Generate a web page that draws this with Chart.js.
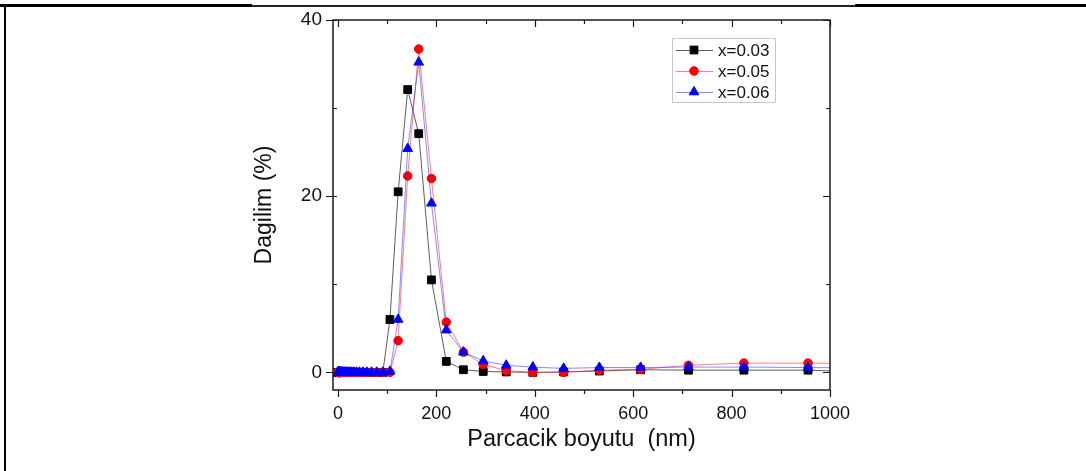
<!DOCTYPE html>
<html>
<head>
<meta charset="utf-8">
<script src="https://cdn.jsdelivr.net/npm/chart.js@4/dist/chart.umd.min.js"></script>
<style>
  html, body { margin: 0; padding: 0; background: #fff; }
  #wrap { position: relative; width: 1086px; height: 471px; overflow: hidden; }
  #c { position: absolute; left: 0; top: 0; }
  .bl { position: absolute; background: #000; }
</style>
</head>
<body>
<div id="wrap">
  <canvas id="c" width="1086" height="471"></canvas>
  <div class="bl" style="left:4px;top:4px;width:2px;height:467px;"></div>
  <div class="bl" style="left:0;top:4px;width:252px;height:3px;"></div>
  <div class="bl" style="left:252px;top:5px;width:603px;height:1.5px;background:#222;"></div>
  <div class="bl" style="left:855px;top:4px;width:231px;height:3px;"></div>
</div>
<script>
// Particle size bins (nm)
const sizes = [0.4, 0.4632, 0.5365, 0.6213, 0.7195, 0.8332, 0.9649, 1.117, 1.294, 1.499,
  1.736, 2.01, 2.328, 2.696, 3.122, 3.615, 4.187, 4.849, 5.615, 6.503,
  7.531, 8.721, 10.1, 11.7, 13.54, 15.69, 18.17, 21.04, 24.36, 28.21,
  32.67, 37.84, 43.82, 50.75, 58.77, 68.06, 78.82, 91.28, 105.7, 122.4,
  141.8, 164.2, 190.1, 220.2, 255.0, 295.3, 342.0, 396.1, 458.7, 531.2,
  615.1, 712.4, 825.0, 955.4, 1106];

// Distribution (%) for each composition
const x003 = [0,0,0,0,0,0,0,0,0,0, 0,0,0,0,0,0,0,0,0,0, 0,0,0,0,0,0,0,0,0,0,
  0,0,0,0,0,0,0,0, 6.0, 20.5, 32.1, 27.1, 10.5, 1.25, 0.3, 0.1, 0.05, 0.0, 0.05, 0.15,
  0.3, 0.25, 0.25, 0.25, 0.0];
const x005 = [0,0,0,0,0,0,0,0,0,0, 0,0,0,0,0,0,0,0,0,0, 0,0,0,0,0,0,0,0,0,0,
  0,0,0,0,0,0,0,0, 0.0, 3.6, 22.3, 36.7, 22.0, 5.7, 2.3, 0.9, 0.2, 0.0, 0.0, 0.25,
  0.35, 0.8, 1.05, 1.05, 1.0];
const x006 = [0,0,0,0,0,0,0,0,0,0, 0,0,0,0,0,0,0,0,0,0, 0,0,0,0,0,0,0,0,0,0,
  0,0,0,0,0,0,0,0, 0.1, 6.0, 25.4, 35.2, 19.2, 4.8, 2.3, 1.3, 0.8, 0.6, 0.45, 0.55,
  0.55, 0.6, 0.6, 0.55, 0.5];

const seriesNames = ['x=0.03', 'x=0.05', 'x=0.06'];
const xTickValues = [0, 200, 400, 600, 800, 1000];
const xMinorValues = [100, 300, 500, 700, 900];
const yTickValues = [0, 20, 40];
const yMinorValues = [10, 30];

const FONT = "'Liberation Sans', Arial, sans-serif";

function pts(vals) { return sizes.map((s, i) => ({ x: s, y: vals[i] })); }

const styles = [
  { line: 'rgba(40,40,40,0.75)', pt: '#000000', shape: 'rect', r: 5.5 },
  { line: 'rgba(255,40,40,0.6)', pt: '#ff0000', shape: 'circle', r: 4.3 },
  { line: 'rgba(40,40,255,0.55)', pt: '#0000ff', shape: 'triangle', r: 5.6 }
];
const allVals = [x003, x005, x006];

const datasets = allVals.map((v, i) => ({
  label: seriesNames[i],
  data: pts(v),
  borderColor: styles[i].line,
  borderWidth: 1,
  pointStyle: styles[i].shape,
  pointRadius: styles[i].r,
  pointBackgroundColor: styles[i].pt,
  pointBorderColor: styles[i].pt,
  pointBorderWidth: 1,
  tension: 0,
  order: 3 - i
}));

function drawMarker(ctx, shape, x, y, r, color) {
  ctx.save();
  ctx.fillStyle = color; ctx.strokeStyle = color; ctx.lineWidth = 1;
  ctx.beginPath();
  if (shape === 'rect') {
    const s = r * Math.SQRT1_2;
    ctx.rect(x - s, y - s, 2 * s, 2 * s);
  } else if (shape === 'circle') {
    ctx.arc(x, y, r, 0, Math.PI * 2);
  } else {
    ctx.moveTo(x, y - r);
    ctx.lineTo(x + r * Math.cos(Math.PI / 6), y + r * 0.5);
    ctx.lineTo(x - r * Math.cos(Math.PI / 6), y + r * 0.5);
    ctx.closePath();
  }
  ctx.fill(); ctx.stroke();
  ctx.restore();
}

const framePlugin = {
  id: 'frame',
  afterDraw(chart) {
    const { ctx, chartArea: a, scales: { x, y } } = chart;
    ctx.save();
    ctx.strokeStyle = '#1a1a1a';
    ctx.lineWidth = 1.5;
    ctx.strokeRect(a.left, a.top, a.right - a.left, a.bottom - a.top);
    ctx.lineWidth = 1.2;
    ctx.beginPath();
    xTickValues.forEach(v => {
      const px = Math.round(x.getPixelForValue(v)) + 0.5;
      ctx.moveTo(px, a.bottom); ctx.lineTo(px, a.bottom + 7);
      ctx.moveTo(px, a.top); ctx.lineTo(px, a.top + 7);
    });
    xMinorValues.forEach(v => {
      const px = Math.round(x.getPixelForValue(v)) + 0.5;
      ctx.moveTo(px, a.bottom); ctx.lineTo(px, a.bottom + 4);
      ctx.moveTo(px, a.top); ctx.lineTo(px, a.top + 4);
    });
    yTickValues.forEach(v => {
      const py = Math.round(y.getPixelForValue(v)) + 0.5;
      ctx.moveTo(a.left - 7, py); ctx.lineTo(a.left + 4, py);
      ctx.moveTo(a.right, py); ctx.lineTo(a.right - 7, py);
    });
    yMinorValues.forEach(v => {
      const py = Math.round(y.getPixelForValue(v)) + 0.5;
      ctx.moveTo(a.left, py); ctx.lineTo(a.left + 4, py);
      ctx.moveTo(a.right, py); ctx.lineTo(a.right - 4, py);
    });
    ctx.stroke();

    // legend
    const lx = 672, ly = 38, lw = 103, lh = 64;
    ctx.lineWidth = 1;
    ctx.strokeStyle = '#c8c8c8';
    ctx.fillStyle = '#fff';
    ctx.fillRect(lx, ly, lw, lh);
    ctx.strokeRect(lx + 0.5, ly + 0.5, lw, lh);
    ctx.font = '17px ' + FONT;
    ctx.textBaseline = 'middle';
    ctx.textAlign = 'left';
    seriesNames.forEach((name, i) => {
      const ry = ly + 12 + i * 21;
      ctx.strokeStyle = styles[i].line;
      ctx.beginPath();
      ctx.moveTo(lx + 4, ry + 0.5); ctx.lineTo(lx + 41, ry + 0.5);
      ctx.stroke();
      drawMarker(ctx, styles[i].shape, lx + 22, ry, styles[i].r, styles[i].pt);
      ctx.fillStyle = '#111';
      ctx.fillText(name, lx + 46, ry + 1);
    });
    ctx.restore();
  }
};

new Chart(document.getElementById('c'), {
  type: 'line',
  data: { datasets },
  plugins: [framePlugin],
  options: {
    responsive: false,
    animation: false,
    layout: { padding: { left: 0, top: 20, right: 256, bottom: 0 } },
    plugins: { legend: { display: false }, tooltip: { enabled: false } },
    scales: {
      x: {
        type: 'linear', min: -10, max: 1000,
        afterBuildTicks: s => { s.ticks = xTickValues.map(v => ({ value: v })); },
        afterFit: s => { s.height = 81; },
        ticks: { font: { size: 18, family: FONT }, color: '#111', padding: 5, maxRotation: 0, autoSkip: false,
          callback: v => String(v) },
        grid: { display: false },
        border: { display: false },
        title: { display: true, text: 'Parcacik boyutu  (nm)', color: '#111',
          font: { size: 23.5, family: FONT }, padding: { top: 0, bottom: 17 } }
      },
      y: {
        type: 'linear', min: -2, max: 40,
        afterBuildTicks: s => { s.ticks = yTickValues.map(v => ({ value: v })); },
        afterFit: s => { s.width = 333; },
        ticks: { font: { size: 19, family: FONT }, color: '#111', padding: 3, autoSkip: false,
          callback: v => String(v) },
        grid: { display: false },
        border: { display: false },
        title: { display: true, text: 'Dagilim (%)', color: '#111',
          font: { size: 23, family: FONT }, padding: { top: 251, bottom: 0 } }
      }
    }
  }
});
</script>
</body>
</html>
